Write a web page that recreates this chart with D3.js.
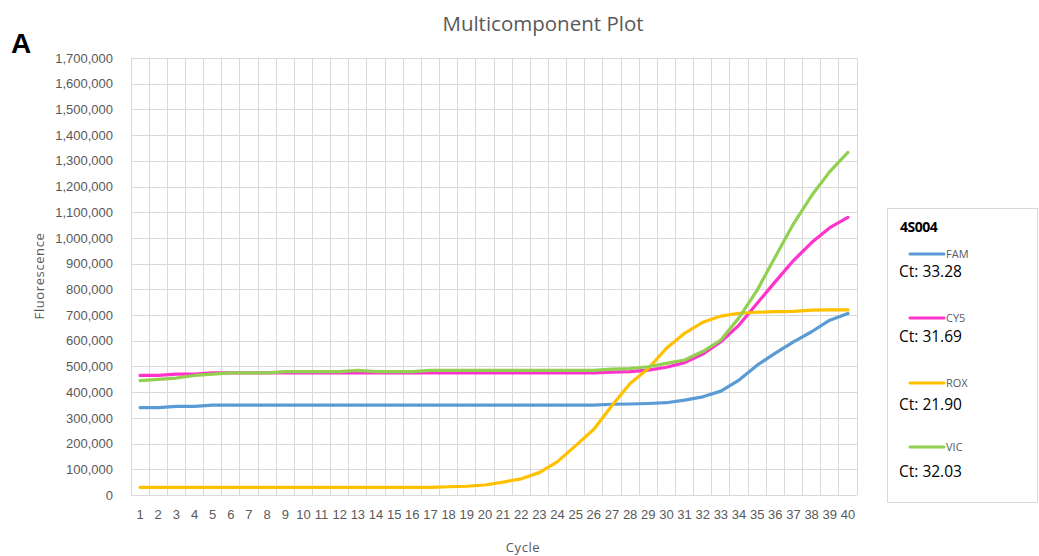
<!DOCTYPE html>
<html>
<head>
<meta charset="utf-8">
<script src="https://cdn.jsdelivr.net/npm/d3@7"></script>
<style>
  body { margin: 0; background: #fff; }
  svg { display: block; font-family: "Open Sans", sans-serif; }
  .axis text { fill: #595959; font-size: 13px; }
  .axis line { stroke: #d9d9d9; }
  .axis .domain { display: none; }
</style>
</head>
<body>
<div id="graf"></div>
<script>
// Datos
const cycles = d3.range(1, 41)
const famValues = [340000, 340000, 345000, 345000, 350000, 350000, 350000, 350000, 350000, 350000,
  350000, 350000, 350000, 350000, 350000, 350000, 350000, 350000, 350000, 350000,
  350000, 350000, 350000, 350000, 350000, 350000, 353000, 354000, 356000, 359000,
  369000, 382000, 404000, 447000, 505000, 552000, 596000, 635000, 680000, 706000]
const cy5Values = [465000, 465000, 470000, 470000, 475000, 475000, 475000, 475000, 475000, 475000,
  475000, 475000, 475000, 475000, 475000, 475000, 475000, 475000, 475000, 475000,
  475000, 475000, 475000, 475000, 475000, 475000, 478000, 480000, 486000, 497000,
  515000, 548000, 596000, 661000, 746000, 830000, 912000, 982000, 1040000, 1080000]
const roxValues = [30000, 30000, 30000, 30000, 30000, 30000, 30000, 30000, 30000, 30000,
  30000, 30000, 30000, 30000, 30000, 30000, 30000, 32000, 34000, 39000,
  50000, 63000, 87000, 130000, 192000, 256000, 348000, 434000, 492000, 571000,
  629000, 672000, 696000, 707000, 711000, 713000, 714000, 719000, 720000, 720000]
const vicValues = [445000, 450000, 455000, 465000, 470000, 475000, 475000, 475000, 480000, 480000,
  480000, 480000, 485000, 480000, 480000, 480000, 485000, 485000, 485000, 485000,
  485000, 485000, 485000, 485000, 485000, 485000, 490000, 492000, 499000, 512000,
  525000, 558000, 603000, 690000, 797000, 927000, 1055000, 1165000, 1258000, 1333000]
const seriesNames = ["FAM", "CY5", "ROX", "VIC"]
const seriesColors = ["#5b9bd5", "#ff33cc", "#ffc000", "#92d050"]
const ctLabels = ["Ct: 33.28", "Ct: 31.69", "Ct: 21.90", "Ct: 32.03"]
const yTicks = d3.range(0, 1700001, 100000)

const series = [famValues, cy5Values, roxValues, vicValues].map((v, i) => ({
  name: seriesNames[i], color: seriesColors[i], ct: ctLabels[i],
  values: v.map((d, j) => ({ cycle: cycles[j], value: d }))
}))

// Dimensiones
const anchoTotal = 1039
const altoTotal = 556
const margins = { top: 58, left: 131, right: 182, bottom: 61 }
const ancho = anchoTotal - margins.left - margins.right
const alto = altoTotal - margins.top - margins.bottom

const svg = d3.select("#graf").append("svg")
  .attr("width", anchoTotal)
  .attr("height", altoTotal)

// Escaladores
const x = d3.scaleBand().domain(cycles).range([0, ancho]).padding(0)
const y = d3.scaleLinear().domain([0, 1700000]).range([alto, 0])

const chart = svg.append("g")
  .attr("transform", `translate(${margins.left}, ${margins.top})`)

// Rejilla vertical (límites de categoría)
chart.append("g")
  .selectAll("line")
  .data(cycles.concat([null]))
  .join("line")
  .attr("x1", (d) => d === null ? ancho : x(d))
  .attr("x2", (d) => d === null ? ancho : x(d))
  .attr("y1", 0)
  .attr("y2", alto)
  .attr("stroke", "#d9d9d9")
  .attr("shape-rendering", "crispEdges")

// Ejes
const yAxis = d3.axisLeft(y)
  .tickValues(yTicks)
  .tickSize(-ancho)
  .tickPadding(18)
  .tickFormat(d3.format(","))

chart.append("g")
  .classed("axis", true)
  .call(yAxis)
  .call((g) => g.selectAll("line").attr("shape-rendering", "crispEdges"))

const xAxis = d3.axisBottom(x).tickSize(0).tickPadding(15)

chart.append("g")
  .classed("axis", true)
  .attr("transform", `translate(0, ${alto})`)
  .call(xAxis)

// Líneas
const linea = d3.line()
  .x((d) => x(d.cycle) + x.bandwidth() / 2)
  .y((d) => y(d.value))
  .curve(d3.curveLinear)

chart.append("g")
  .selectAll("path")
  .data(series)
  .join("path")
  .attr("fill", "none")
  .attr("stroke", (d) => d.color)
  .attr("stroke-width", 3.2)
  .attr("stroke-linejoin", "round")
  .attr("stroke-linecap", "round")
  .attr("d", (d) => linea(d.values))

// Títulos
svg.append("text")
  .attr("x", 543)
  .attr("y", 31)
  .attr("text-anchor", "middle")
  .attr("fill", "#595959")
  .style("font-size", "20.5px")
  .text("Multicomponent Plot")

svg.append("text")
  .attr("x", 11)
  .attr("y", 53)
  .attr("fill", "#000")
  .style("font-family", "'Liberation Sans', Arial, sans-serif")
  .style("font-weight", "bold")
  .style("font-size", "28px")
  .text("A")

svg.append("text")
  .attr("x", 523)
  .attr("y", 552)
  .attr("text-anchor", "middle")
  .attr("fill", "#595959")
  .style("font-size", "13px")
  .style("letter-spacing", "0.6px")
  .text("Cycle")

svg.append("text")
  .attr("transform", "translate(44, 276) rotate(-90)")
  .attr("text-anchor", "middle")
  .attr("fill", "#595959")
  .style("font-size", "13px")
  .style("letter-spacing", "0.6px")
  .text("Fluorescence")

// Leyenda
const leyenda = svg.append("g")

leyenda.append("rect")
  .attr("x", 887.5)
  .attr("y", 208.5)
  .attr("width", 150)
  .attr("height", 294)
  .attr("fill", "#fff")
  .attr("stroke", "#d9d9d9")

leyenda.append("text")
  .attr("x", 900)
  .attr("y", 232)
  .attr("fill", "#000")
  .style("font-size", "14px")
  .style("font-weight", "bold")
  .style("letter-spacing", "-0.5px")
  .text("4S004")

const item = leyenda.selectAll("g.item")
  .data(series)
  .join("g")
  .classed("item", true)
  .attr("transform", (d, i) => `translate(0, ${[254, 318, 383, 447][i]})`)

item.append("line")
  .attr("x1", 910)
  .attr("x2", 944)
  .attr("stroke", (d) => d.color)
  .attr("stroke-width", 3)
  .attr("stroke-linecap", "round")

item.append("text")
  .attr("x", 946)
  .attr("y", 4)
  .attr("fill", "#595959")
  .style("font-size", "11px")
  .text((d) => d.name)

item.append("text")
  .attr("x", 899)
  .attr("y", (d, i) => [23, 24, 27, 30][i])
  .attr("fill", "#000")
  .style("font-size", "15.5px")
  .text((d) => d.ct)
</script>
</body>
</html>
